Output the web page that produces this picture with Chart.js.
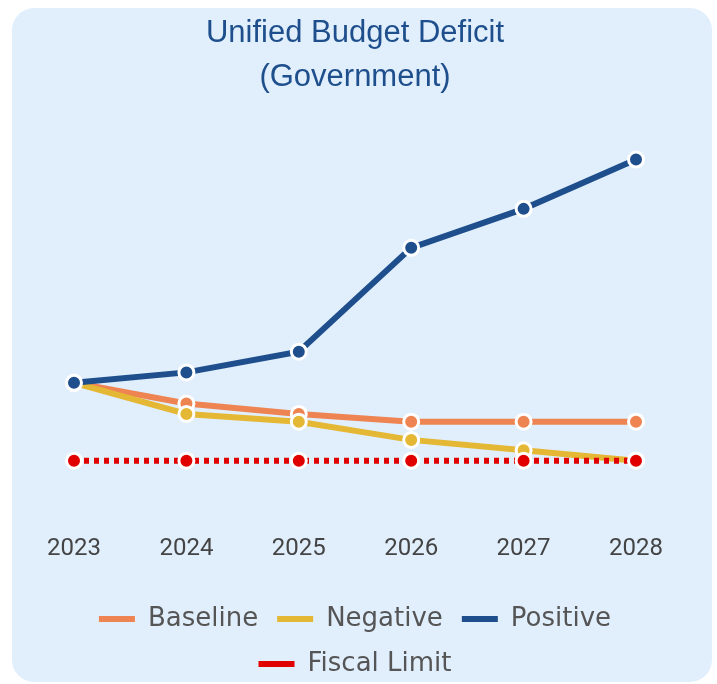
<!DOCTYPE html>
<html lang="en">
<head>
    <meta charset="UTF-8">
    <title>Unified Budget Deficit</title>
    <script src="https://cdn.jsdelivr.net/npm/chart.js"></script>
    <style>
        html, body { margin: 0; padding: 0; background: #ffffff; }
        .card {
            position: absolute;
            left: 12px;
            top: 8px;
            width: 700px;
            height: 674px;
            background: #e1effd;
            border-radius: 22px;
        }
        #deficitChart { display: block; }
    </style>
</head>
<body>
    <div class="card">
        <canvas id="deficitChart" width="700" height="674"></canvas>
    </div>

    <script>
        // Chart values (% of GDP)
        const years = ['2023', '2024', '2025', '2026', '2027', '2028'];
        const baseline = [6.0, 5.2, 4.8, 4.5, 4.5, 4.5];
        const negative = [6.0, 4.8, 4.5, 3.8, 3.4, 3.0];
        const positive = [6.0, 6.4, 7.2, 11.2, 12.7, 14.6];
        const fiscalLimit = [3.0, 3.0, 3.0, 3.0, 3.0, 3.0];

        // later series are painted on top (lower order = drawn last)
        function lineSet(label, data, color, order, dashed) {
            return {
                label: label,
                data: data,
                order: order,
                borderColor: color,
                backgroundColor: color,
                borderWidth: 6,
                borderDash: dashed ? [5, 5] : [],
                pointRadius: 7.5,
                pointHoverRadius: 7.5,
                pointBackgroundColor: color,
                pointBorderColor: '#ffffff',
                pointBorderWidth: 3,
                tension: 0,
                fill: false
            };
        }

        new Chart(document.getElementById('deficitChart'), {
            type: 'line',
            data: {
                labels: years,
                datasets: [
                    lineSet('Baseline', baseline, '#ee8451', 4, false),
                    lineSet('Negative', negative, '#e4b834', 3, false),
                    lineSet('Positive', positive, '#1e4f8c', 2, false),
                    lineSet('Fiscal Limit', fiscalLimit, '#e00000', 1, true)
                ]
            },
            options: {
                responsive: false,
                animation: false,
                layout: { padding: { left: 62, right: 76, top: 0, bottom: -5 } },
                plugins: {
                    title: {
                        display: true,
                        text: ['Unified Budget Deficit', '(Government)'],
                        color: '#1e4f8c',
                        font: { family: 'Liberation Sans', size: 31, weight: 'normal', lineHeight: 1.4 },
                        padding: { top: 4, bottom: 20 }
                    },
                    legend: {
                        position: 'bottom',
                        labels: {
                            boxWidth: 36,
                            boxHeight: 6,
                            color: '#555555',
                            font: { family: 'DejaVu Sans', size: 26 },
                            padding: 19,
                            generateLabels: chart => chart.data.datasets.map((ds, i) => ({
                                text: ds.label,
                                fillStyle: ds.borderColor,
                                strokeStyle: ds.borderColor,
                                lineWidth: 0,
                                fontColor: '#555555',
                                datasetIndex: i
                            }))
                        }
                    },
                    tooltip: { enabled: false }
                },
                scales: {
                    x: {
                        grid: { display: false },
                        border: { display: false },
                        ticks: {
                            color: '#444444',
                            font: { family: 'Roboto', size: 24 },
                            padding: 10
                        },
                        afterFit: scale => { scale.height += 14; }
                    },
                    y: {
                        display: false,
                        min: 0.86,
                        max: 16.17
                    }
                }
            }
        });
    </script>
</body>
</html>
